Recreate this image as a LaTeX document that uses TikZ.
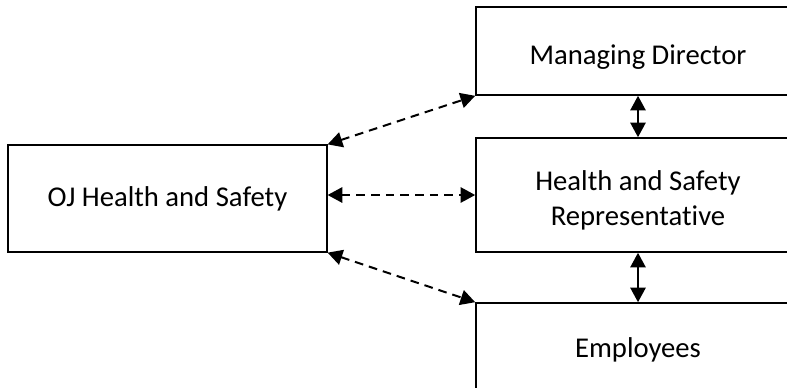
\documentclass[tikz,border=0pt]{standalone}
\usepackage{fontspec}
\setmainfont{Carlito}[Ligatures=NoCommon]
\usetikzlibrary{arrows.meta}

% lower a box's text without moving the box itself
\newcommand{\droptext}[2]{\raisebox{-#1}[\height][\depth]{\begin{tabular}{@{}c@{}}#2\end{tabular}}}

\begin{document}
\begin{tikzpicture}[x=0.75pt, y=-0.75pt,
	orgbox/.style={draw, line width=1.2pt, rectangle, inner sep=0pt, align=center,
		font=\fontsize{21.5}{26.25}\selectfont},
	link/.style={line width=1.5pt, dash pattern=on 6.5pt off 4.5pt,
		{Triangle[length=11pt,width=11.5pt]}-{Triangle[length=11pt,width=11.5pt]}},
	tie/.style={line width=1.5pt,
		{Triangle[length=11pt,width=11.5pt]}-{Triangle[length=11pt,width=11.5pt]}}]
	% Frame of the picture, boxes on the right run past it
	\path[use as bounding box] (0, 0) rectangle (787, 387);
	\clip (0, 0) rectangle (787, 387);
	
	% Left box
	\node[orgbox, minimum width=239pt, minimum height=80pt] (oj) at (167.5, 198.5) {OJ Health and Safety};
	
	% Right column
	\node[orgbox, minimum width=243pt, minimum height=66pt] (md) at (638, 51) {\droptext{5pt}{Managing Director}};
	\node[orgbox, minimum width=243pt, minimum height=85.5pt] (hsr) at (638, 195) {\droptext{4.5pt}{Health and Safety\\Representative}};
	\node[orgbox, minimum width=243pt, minimum height=70.5pt] (emp) at (638, 350) {Employees};
	
	% Dashed links to the right column
	\draw[link] (oj.north east) -- (md.south west);
	\draw[link] (hsr.west -| oj.east) -- (hsr.west);
	\draw[link] (oj.south east) -- (emp.north west);
	
	% Links inside the right column
	\draw[tie] (md.south) -- (hsr.north);
	\draw[tie] (hsr.south) -- (emp.north);
	
\end{tikzpicture}
\end{document}
